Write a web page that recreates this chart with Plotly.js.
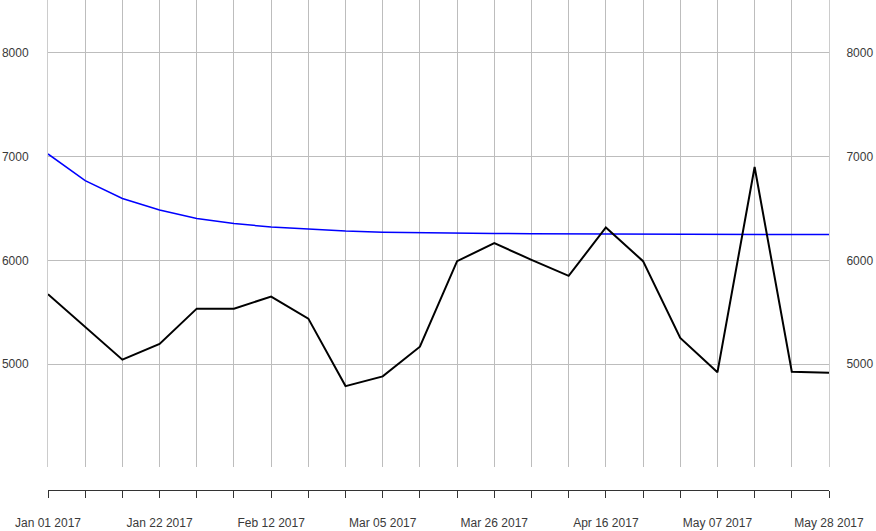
<!DOCTYPE html>
<html>
<head>
<meta charset="utf-8">
<script src="https://cdn.plot.ly/plotly-3.0.1.min.js"></script>
<style>html,body{margin:0;padding:0;background:#fff}#chart{width:876px;height:531px}</style>
</head>
<body>
<div id="chart"></div>
<script>
var dates = ['2017-01-01','2017-01-08','2017-01-15','2017-01-22','2017-01-29','2017-02-05','2017-02-12','2017-02-19','2017-02-26','2017-03-05','2017-03-12','2017-03-19','2017-03-26','2017-04-02','2017-04-09','2017-04-16','2017-04-23','2017-04-30','2017-05-07','2017-05-14','2017-05-21','2017-05-28'];
var actual = [5673,5360,5042,5193,5534,5534,5650,5438,4787,4881,5167,5992,6166,6005,5850,6317,5992,5251,4920,6900,4926,4916];
var fitted = [7026,6768,6597,6485,6404,6356,6321,6298,6282,6272,6266,6262,6259,6256,6254,6253,6252,6251,6250,6250,6249,6249];
var yTicks = [5000,6000,7000,8000];

var WEEK = 7*86400000;
var yr = [4007, 8511];
var traces = [
  {x: dates, y: fitted, type:'scatter', mode:'lines', line:{color:'#0000ff', width:1.5}},
  {x: dates, y: actual, type:'scatter', mode:'lines', line:{color:'#000000', width:2}},
  {x: dates, y: actual, type:'scatter', mode:'lines', yaxis:'y2', line:{width:0}, opacity:0, hoverinfo:'skip'}
];
var font = {family:'Liberation Sans, Arial, sans-serif', size:12, color:'#3a3a3a'};
var layout = {
  width:876, height:531,
  margin:{l:48, r:47, t:0, b:41},
  paper_bgcolor:'#ffffff', plot_bgcolor:'#ffffff',
  showlegend:false, hovermode:false,
  font: font,
  xaxis:{
    type:'date', range:['2017-01-01','2017-05-28'],
    tick0:'2017-01-01', dtick:3*WEEK, tickformat:'%b %d %Y',
    ticks:'outside', ticklen:7, tickcolor:'#333333', tickwidth:1,
    showline:true, linecolor:'#333333', linewidth:1,
    showgrid:true, gridcolor:'#bdbdbd', gridwidth:1,
    minor:{tick0:'2017-01-01', dtick:WEEK, ticks:'outside', ticklen:7, tickcolor:'#333333', showgrid:true, gridcolor:'#bdbdbd', gridwidth:1},
    anchor:'free', position:0, zeroline:false,
    ticklabelstandoff:15, tickfont:font
  },
  yaxis:{
    domain:[0.047,1], range:yr, tickvals:yTicks, ticktext:yTicks.map(String),
    showgrid:true, gridcolor:'#bdbdbd', gridwidth:1, zeroline:false,
    showline:true, linecolor:'#cccccc', linewidth:1,
    ticks:'', ticklabelstandoff:16, tickfont:font
  },
  yaxis2:{
    domain:[0.047,1], range:yr, overlaying:'y', side:'right', tickvals:yTicks, ticktext:yTicks.map(String),
    showgrid:false, zeroline:false, showline:true, linecolor:'#cccccc', linewidth:1,
    ticks:'', ticklabelstandoff:14, tickfont:font
  }
};
Plotly.newPlot('chart', traces, layout, {staticPlot:true, displayModeBar:false});
</script>
</body>
</html>
